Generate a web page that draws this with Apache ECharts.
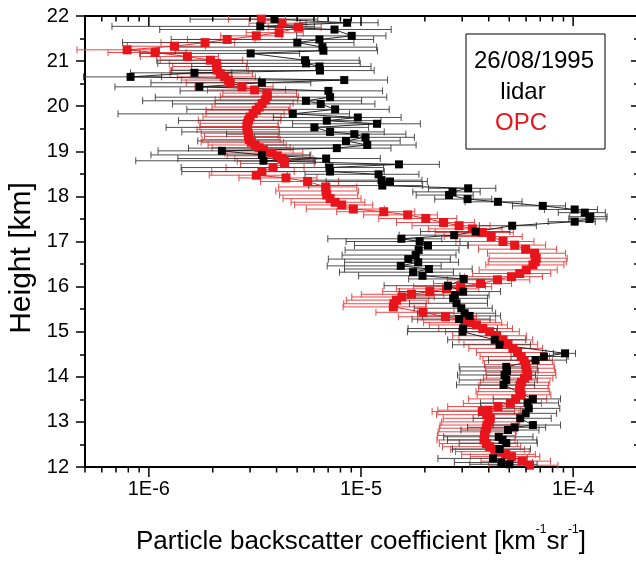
<!DOCTYPE html>
<html><head><meta charset="utf-8">
<script src="https://cdn.jsdelivr.net/npm/echarts@6/dist/echarts.min.js"></script>
<style>html,body{margin:0;padding:0;background:#fff}#c{width:636px;height:561px}</style>
</head><body><div id="c"></div>
<script>
// values in units of 1e-6 km^-1 sr^-1
const UNIT = 1e-6;
const xMin = 5e-7, xMax = 2e-4;
const yMin = 12, yMax = 22;
const decades = [-7, -6, -5, -4];
const legendLines = ['26/08/1995', 'lidar', 'OPC'];
const yTitle = 'Height [km]';

// OPC (red)
const opcH = [21.93,21.84,21.75,21.63,21.56,21.48,21.41,21.33,21.25,21.19,
21.10,21.02,20.95,20.88,20.80,20.72,20.65,20.58,20.52,20.43,
20.36,20.29,20.22,20.14,20.06,19.98,19.91,19.84,19.76,19.69,
19.62,19.55,19.48,19.40,19.33,19.26,19.20,19.14,19.08,19.03,
18.96,18.90,18.84,18.78,18.73,18.64,18.55,18.47,18.41,18.33,
18.21,18.12,18.03,17.95,17.87,17.81,17.72,17.66,17.59,17.51,
17.42,17.35,17.28,17.20,17.11,17.00,16.92,16.83,16.74,16.63,
16.55,16.48,16.37,16.29,16.22,16.15,16.07,16.00,15.95,15.89,
15.83,15.77,15.70,15.62,15.55,15.43,15.33,15.26,15.20,15.15,
15.07,15.00,14.91,14.82,14.72,14.63,14.54,14.45,14.36,14.27,
14.19,14.10,14.03,13.97,13.88,13.81,13.74,13.67,13.60,13.51,
13.41,13.34,13.26,13.23,13.16,13.08,13.00,12.93,12.86,12.78,
12.70,12.60,12.52,12.45,12.39,12.34,12.28,12.23,12.13,12.04];
const opcVal = [3.39,4.24,5.07,4.11,3.21,2.34,1.84,1.32,0.79,1.07,
1.52,1.95,2.08,2.09,2.10,2.17,2.27,2.37,2.42,2.75,
3.15,3.60,3.62,3.54,3.42,3.31,3.21,3.10,3.00,2.95,
2.91,2.90,2.91,2.94,2.95,2.97,3.04,3.17,3.31,3.47,
3.80,4.03,4.24,4.35,4.36,3.85,3.41,3.21,4.43,5.60,
6.82,6.84,6.89,7.15,7.55,8.11,9.2,12.8,16.6,20.2,
24.5,29.0,33.5,37.3,41.1,46.7,53.0,59.7,65.8,67.0,
66.3,64.6,60.1,56.0,51.2,44.0,36.6,29.5,25.3,21.1,
17.3,15.6,14.7,14.3,14.2,19.6,25.0,30.8,32.9,35.0,
37.5,40.4,43.6,46.7,49.3,52.0,54.7,56.9,58.7,59.7,
60.1,60.7,61.0,59.0,57.1,56.2,56.0,56.2,56.9,53.6,
50.6,44.2,39.7,37.3,39.1,40.7,40.0,39.3,39.0,38.5,
38.2,38.0,39.0,40.4,42.7,45.0,48.1,51.2,57.5,62.3];
// relative error (fraction of value)
const opcRel = [0.30,0.30,0.28,0.30,0.32,0.35,0.38,0.40,0.42,0.40,
0.40,0.42,0.40,0.38,0.40,0.42,0.40,0.40,0.38,0.40,
0.40,0.38,0.40,0.42,0.40,0.40,0.42,0.40,0.40,0.42,
0.40,0.40,0.42,0.40,0.38,0.40,0.42,0.40,0.40,0.38,
0.40,0.42,0.40,0.40,0.38,0.40,0.42,0.40,0.40,0.40,
0.40,0.42,0.40,0.40,0.38,0.40,0.40,0.40,0.38,0.40,
0.40,0.40,0.38,0.40,0.40,0.40,0.40,0.40,0.40,0.40,
0.40,0.40,0.40,0.40,0.40,0.42,0.40,0.40,0.42,0.40,
0.42,0.42,0.42,0.42,0.42,0.40,0.40,0.40,0.40,0.40,
0.38,0.38,0.38,0.38,0.38,0.38,0.36,0.36,0.36,0.36,
0.36,0.36,0.36,0.36,0.36,0.36,0.36,0.38,0.38,0.40,
0.40,0.42,0.42,0.42,0.42,0.40,0.40,0.40,0.40,0.40,
0.40,0.40,0.40,0.40,0.38,0.38,0.38,0.36,0.36,0.36];

// lidar (black)
const lidarH = [21.93,21.85,21.77,21.70,21.56,21.48,21.41,21.31,21.23,21.17,
21.02,20.95,20.88,20.79,20.74,20.65,20.58,20.52,20.43,20.34,
20.20,20.12,20.05,19.93,19.83,19.75,19.68,19.61,19.53,19.43,
19.38,19.31,19.23,19.14,19.07,19.01,18.92,18.84,18.79,18.71,
18.64,18.55,18.49,18.36,18.33,18.24,18.18,18.10,18.03,17.94,
17.88,17.79,17.71,17.64,17.55,17.50,17.44,17.35,17.22,17.14,
17.06,17.00,16.91,16.81,16.70,16.61,16.54,16.46,16.39,16.32,
16.24,16.17,16.02,15.89,15.81,15.74,15.63,15.52,15.41,15.35,
15.28,15.07,15.00,14.82,14.71,14.52,14.45,14.37,14.22,14.13,
14.04,13.93,13.82,13.51,13.42,13.30,13.19,13.08,12.93,12.88,
12.82,12.67,12.60,12.53,12.40,12.19,12.10,12.06];
const lidarVal = [3.91,8.6,3.35,7.5,9.04,6.37,5.01,6.58,6.65,3.02,
5.45,5.51,6.37,6.41,1.64,0.82,8.34,3.41,1.73,7.02,
7.15,5.5,6.46,7.55,4.77,9.66,6.9,11.9,6.03,7.15,
9.3,10.5,8.5,10.7,7.69,2.21,3.41,6.85,3.47,15.1,
7.1,7.15,12.1,12.5,13.7,12.6,32.0,27.0,26.0,31.8,
44.2,71.9,101.7,113.5,120.5,119.3,101.7,51.6,34.7,27.5,
15.5,18.9,20.7,18.7,18.1,16.7,18.6,15.4,20.9,17.6,
19.5,30.5,25.7,30.3,27.7,27.2,28.2,29.7,30.8,32.5,
29.0,30.3,30.1,42.7,45.0,91.6,72.8,66.5,48.4,48.8,
47.5,48.4,47.0,64.6,61.0,61.8,59.7,56.3,64.6,53.0,
49.3,44.6,46.5,48.4,45.0,41.9,45.9,50.1];
const lidarRel = [0.6,0.4,0.8,0.85,0.45,0.8,0.85,0.8,0.8,0.7,
0.8,0.8,0.75,0.8,0.5,0.4,0.6,0.7,0.6,0.8,
0.85,0.83,0.8,0.8,0.85,0.6,0.8,0.6,0.8,0.8,
0.75,0.7,0.8,0.7,0.8,0.5,0.7,0.8,0.75,0.55,
0.8,0.8,0.55,0.55,0.5,0.55,0.35,0.35,0.3,0.3,
0.3,0.28,0.28,0.25,0.2,0.2,0.25,0.3,0.45,0.45,
0.55,0.55,0.55,0.55,0.55,0.58,0.55,0.55,0.6,0.55,
0.5,0.45,0.5,0.5,0.45,0.45,0.4,0.4,0.4,0.4,
0.4,0.45,0.45,0.4,0.4,0.12,0.3,0.4,0.4,0.4,
0.4,0.4,0.4,0.35,0.4,0.4,0.4,0.4,0.35,0.4,
0.4,0.45,0.45,0.4,0.4,0.45,0.4,0.35];

const FONT = "'Liberation Sans', Arial, sans-serif";
const RED = '#e8141b';

const pts = (vals, hs) => vals.map((v, i) => [v * UNIT, hs[i]]);
const errData = (vals, hs, rel) => vals.map((v, i) => [v * UNIT, hs[i], v * UNIT * (1 - rel[i]), v * UNIT * (1 + rel[i])]);

function errSeries(data, color, width, z) {
  return {
    type: 'custom', data, z, silent: true, clip: false, animation: false,
    encode: { x: 0, y: 1 },
    renderItem: (params, api) => {
      const y = api.value(1);
      const lo = api.coord([api.value(2), y]);
      const hi = api.coord([api.value(3), y]);
      const h = 3.5;
      const st = { stroke: color, lineWidth: width };
      return { type: 'group', children: [
        { type: 'line', shape: { x1: lo[0], y1: lo[1], x2: hi[0], y2: hi[1] }, style: st },
        { type: 'line', shape: { x1: lo[0], y1: lo[1] - h, x2: lo[0], y2: lo[1] + h }, style: st },
        { type: 'line', shape: { x1: hi[0], y1: hi[1] - h, x2: hi[0], y2: hi[1] + h }, style: st }
      ]};
    }
  };
}

// log-axis tick positions (major at decades, minor at 2..9)
const tickData = [];
decades.forEach(d => {
  for (let k = 1; k <= 9; k++) {
    const v = k * Math.pow(10, d);
    if (v >= xMin * 0.999 && v <= xMax * 1.001) tickData.push([v, yMin, k === 1 ? 1 : 0]);
  }
});

const chart = echarts.init(document.getElementById('c'), null, { renderer: 'canvas' });
chart.setOption({
  animation: false,
  backgroundColor: '#fff',
  grid: { left: 85, right: -1, top: 16, bottom: 94, containLabel: false, outerBoundsMode: 'none' },
  xAxis: [{
    type: 'log', logBase: 10, min: xMin, max: xMax, position: 'bottom',
    axisLine: { show: true, onZero: false, lineStyle: { color: '#000', width: 2 } },
    axisTick: { show: false },
    splitLine: { show: false },
    axisLabel: {
      color: '#000', fontSize: 20, fontFamily: FONT, margin: 12,
      showMinLabel: true, showMaxLabel: true,
      formatter: v => { const e = Math.log10(v); const r = Math.round(e); return Math.abs(e - r) < 1e-6 ? '1E' + r : ''; }
    },
    name: '{a|Particle backscatter coefficient [km}{s|-1}{a|sr}{s|-1}{a|]}',
    nameLocation: 'middle', nameGap: 52,
    nameTextStyle: { rich: {
      a: { fontSize: 26, fontFamily: FONT, color: '#000', lineHeight: 36, verticalAlign: 'bottom' },
      s: { fontSize: 12, fontFamily: FONT, color: '#000', lineHeight: 14, verticalAlign: 'top', padding: [5, 0, 0, 0] }
    } }
  }, {
    type: 'log', logBase: 10, min: xMin, max: xMax, position: 'top',
    axisLine: { show: true, onZero: false, lineStyle: { color: '#000', width: 2 } },
    axisTick: { show: false }, axisLabel: { show: false }, splitLine: { show: false }
  }],
  yAxis: [{
    type: 'value', min: yMin, max: yMax, interval: 1, position: 'left',
    axisLine: { show: true, onZero: false, lineStyle: { color: '#000', width: 2 } },
    axisTick: { show: true, inside: false, length: 9, lineStyle: { color: '#000', width: 1.5 } },
    minorTick: { show: true, splitNumber: 2, length: 5, lineStyle: { color: '#000', width: 1.5 } },
    splitLine: { show: false },
    axisLabel: { color: '#000', fontSize: 20, fontFamily: FONT, margin: 16 }
  }, {
    type: 'value', min: yMin, max: yMax, interval: 1, position: 'right',
    axisLine: { show: true, onZero: false, lineStyle: { color: '#000', width: 2 } },
    axisTick: { show: true, inside: true, length: 6, lineStyle: { color: '#000', width: 1.5 } },
    minorTick: { show: true, splitNumber: 2, length: 3, lineStyle: { color: '#000', width: 1.5 } },
    splitLine: { show: false }, axisLabel: { show: false }
  }],
  series: [
    errSeries(errData(opcVal, opcH, opcRel), '#e84a4a', 1, 1),
    errSeries(errData(lidarVal, lidarH, lidarRel), '#3a3a3a', 0.9, 2),
    { type: 'line', name: 'lidar-line', data: pts(lidarVal, lidarH), z: 3, symbol: 'none',
      lineStyle: { color: '#111', width: 0.9 }, silent: true },
    { type: 'line', name: 'OPC', data: pts(opcVal, opcH), z: 4, symbol: 'rect', symbolSize: 9,
      itemStyle: { color: RED }, lineStyle: { color: RED, width: 0.9 }, silent: true },
    { type: 'scatter', name: 'lidar', data: pts(lidarVal, lidarH), z: 5, symbol: 'rect', symbolSize: 8,
      itemStyle: { color: '#000', opacity: 1 }, silent: true },
    { type: 'custom', data: tickData, z: 6, silent: true, clip: false,
      encode: { x: 0, y: 1 },
      renderItem: (params, api) => {
        const v = api.value(0);
        const major = api.value(2) === 1;
        const b = api.coord([v, yMin]);
        const t = api.coord([v, yMax]);
        const l = major ? 10 : 5.5;
        const st = { stroke: '#000', lineWidth: 1.5 };
        return { type: 'group', children: [
          { type: 'line', shape: { x1: b[0], y1: b[1], x2: b[0], y2: b[1] + l }, style: st },
          { type: 'line', shape: { x1: t[0], y1: t[1], x2: t[0], y2: t[1] + l }, style: st }
        ]};
      }
    }
  ],
  graphic: [
    { type: 'text', x: 22, y: 258, rotation: Math.PI / 2, z: 100,
      style: { text: yTitle, font: '30px ' + FONT, fill: '#000', align: 'center', verticalAlign: 'middle' } },
    { type: 'group', z: 100,
      children: [
        { type: 'rect', shape: { x: 466, y: 34, width: 139, height: 115 }, style: { fill: '#fff', stroke: '#000', lineWidth: 1 }, z: 100 },
        { type: 'text', x: 534, y: 61, style: { text: legendLines[0], font: '24px ' + FONT, fill: '#000', align: 'center', verticalAlign: 'middle' }, z: 101 },
        { type: 'text', x: 523, y: 92, style: { text: legendLines[1], font: '24px ' + FONT, fill: '#000', align: 'center', verticalAlign: 'middle' }, z: 101 },
        { type: 'text', x: 521, y: 123, style: { text: legendLines[2], font: '24px ' + FONT, fill: RED, align: 'center', verticalAlign: 'middle' }, z: 101 }
      ]
    }
  ]
});
</script></body></html>
